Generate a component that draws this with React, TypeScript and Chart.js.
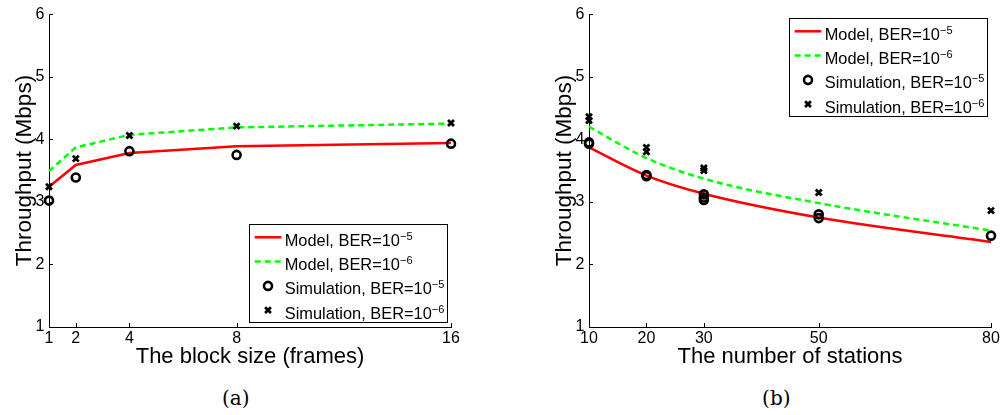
import React, { useEffect, useRef } from "react";
import { Chart, registerables } from "chart.js";

Chart.register(...registerables);

// ---------- data ----------
const yTicks = [1, 2, 3, 4, 5, 6];

const blockSizes = [1, 2, 4, 8, 16];
const blockModelBer5 = [3.24, 3.59, 3.78, 3.89, 3.94];
const blockModelBer6 = [3.49, 3.87, 4.07, 4.19, 4.25];
const blockSimBer5 = [3.02, 3.39, 3.81, 3.75, 3.93];
const blockSimBer6 = [3.24, 3.69, 4.06, 4.21, 4.26];

const stationCounts = [10, 20, 30, 50, 80];
const stationModelBer5 = [3.87, 3.42, 3.13, 2.75, 2.36];
const stationModelBer6 = [4.2, 3.7, 3.37, 2.98, 2.54];
const stationSimBer5X = [10, 10, 20, 20, 30, 30, 30, 50, 50, 80];
const stationSimBer5 = [3.93, 3.95, 3.41, 3.43, 3.12, 3.07, 3.03, 2.8, 2.74, 2.46];
const stationSimBer6X = [10, 10, 20, 20, 30, 30, 50, 80];
const stationSimBer6 = [4.36, 4.3, 3.87, 3.8, 3.54, 3.5, 3.15, 2.86];

const legendBase = ["Model, BER=10", "Model, BER=10", "Simulation, BER=10", "Simulation, BER=10"];
const legendExp = ["\u22125", "\u22126", "\u22125", "\u22126"];
const legendKinds = ["solid", "dash", "circle", "cross"];

const yTitle = "Throughput (Mbps)";
const blockTitle = "The block size (frames)";
const stationTitle = "The number of stations";
const captions = ["(a)", "(b)"];

// ---------- styles ----------
const SANS = '"Liberation Sans", Arial, Helvetica, sans-serif';
const RED = "#ff0000";
const GREEN = "#00ff00";

const pts = (xs: number[], ys: number[]) => xs.map((x, i) => ({ x, y: ys[i] }));

function buildDatasets(xs: number[], m5: number[], m6: number[], s5x: number[], s5: number[], s6x: number[], s6: number[], smooth: boolean) {
  const lineCommon = {
    showLine: true,
    pointRadius: 0,
    borderWidth: 2.5,
    fill: false,
    clip: false as any,
    tension: 0,
    cubicInterpolationMode: smooth ? ("monotone" as const) : ("default" as const),
  };
  return [
    {
      ...lineCommon,
      label: legendBase[0] + "\u207B\u2075",
      data: pts(xs, m5),
      borderColor: RED,
      order: 3,
    },
    {
      ...lineCommon,
      label: legendBase[1] + "\u207B\u2076",
      data: pts(xs, m6),
      borderColor: GREEN,
      borderDash: [6, 4],
      order: 2,
    },
    {
      label: legendBase[2] + "\u207B\u2075",
      data: pts(s5x, s5),
      showLine: false,
      pointStyle: "circle",
      pointRadius: 4,
      pointBorderWidth: 2.6,
      pointBorderColor: "#000",
      pointBackgroundColor: "rgba(0,0,0,0)",
      borderColor: "#000",
      clip: false as any,
      order: 1,
    },
    {
      label: legendBase[3] + "\u207B\u2076",
      data: pts(s6x, s6),
      showLine: false,
      pointStyle: "crossRot",
      pointRadius: 4.2,
      pointBorderWidth: 2.8,
      pointBorderColor: "#000",
      borderColor: "#000",
      clip: false as any,
      order: 0,
    },
  ];
}

const inwardTicks = {
  id: "inTicks",
  afterDraw(chart: any) {
    const { ctx, chartArea, scales } = chart;
    const len = 4;
    ctx.save();
    ctx.strokeStyle = "#000";
    ctx.lineWidth = 1;
    ctx.beginPath();
    scales.x.ticks.forEach((t: any) => {
      const px = Math.round(scales.x.getPixelForValue(t.value)) + 0.5;
      ctx.moveTo(px, chartArea.bottom);
      ctx.lineTo(px, chartArea.bottom - len);
    });
    scales.y.ticks.forEach((t: any) => {
      const py = Math.round(scales.y.getPixelForValue(t.value)) + 0.5;
      ctx.moveTo(chartArea.left, py);
      ctx.lineTo(chartArea.left + len, py);
    });
    ctx.stroke();
    ctx.restore();
  },
};

const boxLegend = {
  id: "boxLegend",
  afterDraw(chart: any, _args: any, opts: any) {
    const { ctx, chartArea } = chart;
    const mainFont = `16.4px ${SANS}`;
    const supFont = `11px ${SANS}`;
    ctx.save();
    let maxW = 0;
    const widths = legendBase.map((b, i) => {
      ctx.font = mainFont;
      const w1 = ctx.measureText(b).width;
      ctx.font = supFont;
      const w2 = ctx.measureText(legendExp[i]).width;
      maxW = Math.max(maxW, w1 + w2);
      return w1;
    });
    const w = Math.round(35.7 + maxW + 3);
    const h = 98;
    const right = Math.round(chartArea.right - 4.3);
    const left = right - w;
    const top = Math.round(opts.corner === "top" ? chartArea.top + 4 : chartArea.bottom - 5.3 - h);
    ctx.fillStyle = "#fff";
    ctx.fillRect(left, top, w, h);
    ctx.strokeStyle = "#000";
    ctx.lineWidth = 1;
    ctx.strokeRect(left + 0.5, top + 0.5, w, h);
    for (let i = 0; i < legendBase.length; i++) {
      const cy = top + 13.3 + i * 24.3;
      const kind = legendKinds[i];
      ctx.setLineDash([]);
      if (kind === "solid" || kind === "dash") {
        ctx.strokeStyle = kind === "solid" ? RED : GREEN;
        ctx.lineWidth = 2.5;
        if (kind === "dash") ctx.setLineDash([6, 4]);
        ctx.beginPath();
        ctx.moveTo(left + 5.7, cy);
        ctx.lineTo(left + 32.4, cy);
        ctx.stroke();
        ctx.setLineDash([]);
      } else if (kind === "circle") {
        ctx.strokeStyle = "#000";
        ctx.lineWidth = 2.6;
        ctx.beginPath();
        ctx.arc(left + 19, cy, 4, 0, Math.PI * 2);
        ctx.stroke();
      } else {
        ctx.strokeStyle = "#000";
        ctx.lineWidth = 2.8;
        const r = 2.9;
        ctx.beginPath();
        ctx.moveTo(left + 19 - r, cy - r);
        ctx.lineTo(left + 19 + r, cy + r);
        ctx.moveTo(left + 19 - r, cy + r);
        ctx.lineTo(left + 19 + r, cy - r);
        ctx.stroke();
      }
      ctx.fillStyle = "#000";
      ctx.textBaseline = "alphabetic";
      ctx.textAlign = "left";
      ctx.font = mainFont;
      ctx.fillText(legendBase[i], left + 35.7, cy + 8.5);
      ctx.font = supFont;
      ctx.fillText(legendExp[i], left + 35.7 + widths[i], cy + 2.3);
    }
    ctx.restore();
  },
};

type PanelProps = {
  left: number;
  width: number;
  padLeft: number;
  padRight: number;
  xMin: number;
  xMax: number;
  xTicks: number[];
  xTitle: string;
  datasets: any[];
  corner: "top" | "bottom";
};

const CANVAS_H = 380;

function Panel(p: PanelProps) {
  const ref = useRef<HTMLCanvasElement | null>(null);
  useEffect(() => {
    if (!ref.current) return;
    const chart = new Chart(ref.current, {
      type: "scatter",
      data: { datasets: p.datasets },
      plugins: [inwardTicks, boxLegend],
      options: {
        responsive: false,
        animation: false,
        devicePixelRatio: 1,
        layout: { padding: { left: p.padLeft, right: p.padRight, top: 10, bottom: 0 } },
        plugins: {
          legend: { display: false },
          tooltip: { enabled: false },
          boxLegend: { corner: p.corner },
        } as any,
        scales: {
          x: {
            type: "linear",
            min: p.xMin,
            max: p.xMax,
            afterBuildTicks: (s: any) => {
              s.ticks = p.xTicks.map((v) => ({ value: v }));
            },
            afterFit: (s: any) => {
              s.height = CANVAS_H - 327;
            },
            grid: { display: false, drawTicks: false },
            border: { display: true, color: "#000", width: 1 },
            ticks: {
              color: "#000",
              font: { family: SANS, size: 16 },
              padding: 2,
              maxRotation: 0,
              autoSkip: false,
              callback: (v: any) => String(v),
            },
            title: {
              display: true,
              text: p.xTitle,
              color: "#000",
              font: { family: SANS, size: 22 },
              padding: { top: 0, bottom: 9.6 },
            },
          },
          y: {
            type: "linear",
            min: 1,
            max: 6,
            afterBuildTicks: (s: any) => {
              s.ticks = yTicks.map((v) => ({ value: v }));
            },
            afterFit: (s: any) => {
              s.width = 49;
            },
            grid: { display: false, drawTicks: false },
            border: { display: true, color: "#000", width: 1 },
            ticks: {
              color: "#000",
              font: { family: SANS, size: 16 },
              padding: 4.5,
              callback: (v: any) => String(v),
            },
            title: {
              display: true,
              text: yTitle,
              color: "#000",
              font: { family: SANS, size: 22.5 },
              padding: { top: 11, bottom: 0 },
            },
          },
        },
      } as any,
    });
    return () => chart.destroy();
  }, []);
  return (
    <canvas
      ref={ref}
      width={p.width}
      height={CANVAS_H}
      style={{ position: "absolute", left: p.left, top: 0, width: p.width, height: CANVAS_H, display: "block" }}
    />
  );
}

export default function App() {
  const dsA = buildDatasets(blockSizes, blockModelBer5, blockModelBer6, blockSizes, blockSimBer5, blockSizes, blockSimBer6, false);
  const dsB = buildDatasets(
    stationCounts,
    stationModelBer5,
    stationModelBer6,
    stationSimBer5X,
    stationSimBer5,
    stationSimBer6X,
    stationSimBer6,
    true
  );
  const capStyle = (cx: number): React.CSSProperties => ({
    position: "absolute",
    left: cx - 50,
    width: 100,
    top: 387.5,
    textAlign: "center",
    fontFamily: '"DejaVu Serif", serif',
    fontSize: 20,
    lineHeight: "20px",
    color: "#000",
  });
  return (
    <div style={{ position: "fixed", left: 0, top: 0, width: 1005, height: 415, background: "#fff", overflow: "hidden" }}>
      <Panel
        left={0}
        width={500}
        padLeft={0}
        padRight={49}
        xMin={1}
        xMax={16}
        xTicks={blockSizes}
        xTitle={blockTitle}
        datasets={dsA}
        corner="bottom"
      />
      <Panel
        left={500}
        width={505}
        padLeft={40}
        padRight={14}
        xMin={10}
        xMax={80}
        xTicks={stationCounts}
        xTitle={stationTitle}
        datasets={dsB}
        corner="top"
      />
      <div style={capStyle(235.8)}>{captions[0]}</div>
      <div style={capStyle(776.3)}>{captions[1]}</div>
    </div>
  );
}
